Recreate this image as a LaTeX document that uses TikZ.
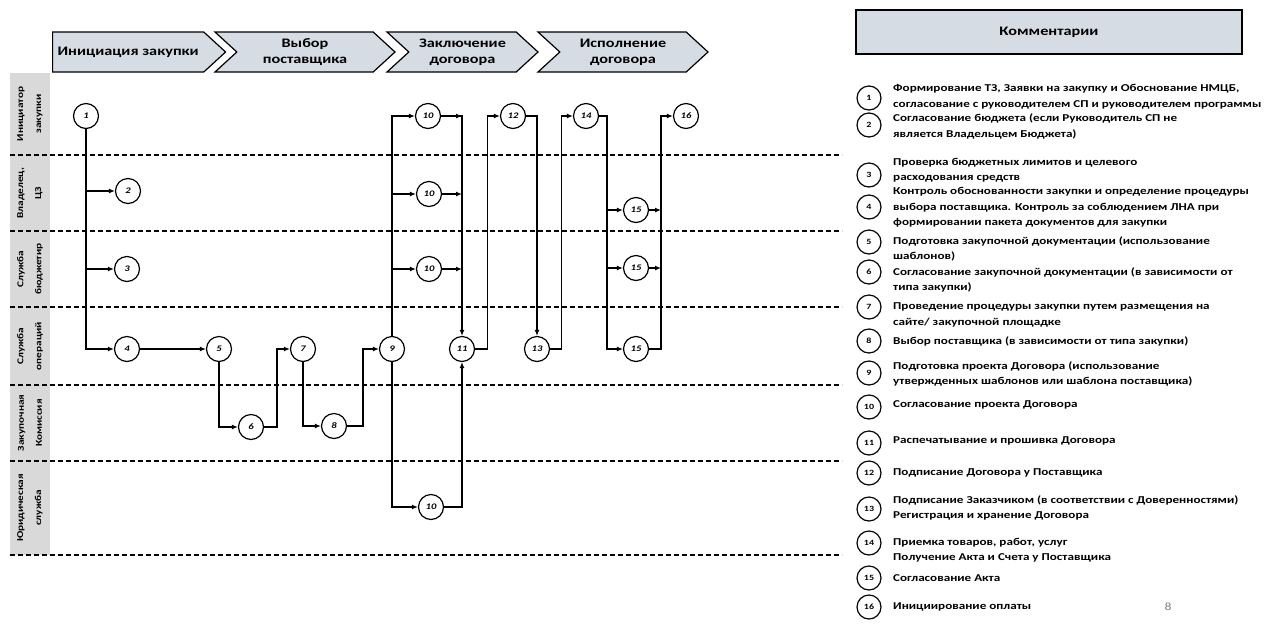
\documentclass[tikz,border=0pt]{standalone}
\usepackage{fontspec}
\setmainfont{Carlito}[FakeStretch=1.25]
\usetikzlibrary{calc, positioning, arrows.meta, shapes.symbols}
\definecolor{phasefill}{HTML}{D6DCE4}
\definecolor{lanegrey}{HTML}{D9D9D9}

\tikzset{
  stepnode/.style={circle, draw, line width=1.2pt, minimum size=25pt, inner sep=0pt, fill=white, font=\fontsize{8.5}{8.5}\selectfont\bfseries\itshape},
  keynode/.style={stepnode, minimum size=24pt, font=\fontsize{8}{8}\selectfont\bfseries},
  flow/.style={line width=1.3pt, -{Latex[length=6pt,width=5pt]}},
  lanesep/.style={line width=1.3pt, dash pattern=on 5pt off 3pt},
  phase/.style={signal, draw, fill=phasefill, line width=1.2pt, signal to=east, minimum height=40pt, inner sep=0pt, signal pointer angle=85, align=center, font=\fontsize{13}{16}\selectfont\bfseries},
  lanename/.style={rotate=90, align=center, font=\fontsize{9}{18}\selectfont\bfseries},
  keytext/.style={anchor=west, align=left, inner sep=0pt, font=\fontsize{10.5}{15.5}\selectfont\bfseries}
}

\begin{document}
\begin{tikzpicture}[x=1pt, y=-1pt]
      \useasboundingbox (0,0) rectangle (1266,625);

      \fill[lanegrey] (10,73) rectangle (50,555);
      \foreach \y in {155,231,307,385,461,555} {
        \draw[lanesep] (10,\y) -- (842,\y);
      }
      \foreach \yc/\txt [count=\i] in {114/{Инициатор\\закупки}, 193/{Владелец,\\ЦЗ}, 269/{Служба\\бюджетир}, 346/{Служба\\операций}, 423/{Закупочная\\Комиссия}, 508/{Юридическая\\служба}} {
        \node[lanename] (Lane\i) at (30,\yc) {\txt};
      }

      \node[phase, signal from=nowhere, minimum width=173pt, anchor=west] (Ph1) at (52,52) {Инициация закупки};
      \node[phase, signal from=west, minimum width=180pt] (Ph2) at (305,52) {Выбор\\поставщика};
      \node[phase, signal from=west, minimum width=151pt] (Ph3) at (462.5,52) {Заключение\\договора};
      \node[phase, signal from=west, minimum width=170pt] (Ph4) at (623,52) {Исполнение\\договора};

      \node[stepnode] (n1) at (86,116) {1};
      \node[stepnode] (n2) at (128,191) {2};
      \node[stepnode] (n3) at (127,269) {3};
      \node[stepnode] (n4) at (127,349) {4};
      \node[stepnode] (n5) at (219,349) {5};
      \node[stepnode] (n6) at (251,427) {6};
      \node[stepnode] (n7) at (303,349) {7};
      \node[stepnode] (n8) at (334,426) {8};
      \node[stepnode] (n9) at (392,349) {9};
      \node[stepnode] (n10a) at (428,116) {10};
      \node[stepnode] (n10b) at (429,194) {10};
      \node[stepnode] (n10c) at (429,269) {10};
      \node[stepnode] (n10d) at (431,507) {10};
      \node[stepnode] (n11) at (462,349) {11};
      \node[stepnode] (n12) at (513,116) {12};
      \node[stepnode] (n13) at (537,349) {13};
      \node[stepnode] (n14) at (586,116) {14};
      \node[stepnode] (n15a) at (636,210) {15};
      \node[stepnode] (n15b) at (636,268) {15};
      \node[stepnode] (n15c) at (636,349) {15};
      \node[stepnode] (n16) at (686,116) {16};

      \draw[flow] (n1) |- (n2);
      \draw[flow] (n1) |- (n3);
      \draw[flow] (n1) |- (n4);
      \draw[flow] (n4) -- (n5);
      \draw[flow] (n5) |- (n6);
      \draw[flow] (n6) -| ($(n6.east)!0.5!(n7.west)$) |- (n7);
      \draw[flow] (n7) |- (n8);
      \draw[flow] (n8) -| ($(n8.east)!0.5!(n9.west)$) |- (n9);
      \foreach \j in {a,b,c,d} {
        \draw[flow] (n9) |- (n10\j);
      }
      \foreach \j in {a,b,c} {
        \draw[flow] (n10\j) -- (n10\j -| n11);
      }
      \draw[flow] (n10a) -| (n11);
      \draw[flow] (n10d) -| (n11);
      \draw[flow] (n11) -| ($(n11.east)!0.5!(n12.west)$) |- (n12);
      \draw[flow] (n12) -| (n13);
      \draw[flow] (n13) -| ($(n13.east)!0.5!(n14.west)$) |- (n14);

      \coordinate (j14) at ($(n14.east)+(8,0)$);
      \coordinate (j16) at ($(n15c.east)!0.5!(n16.west |- n15c)$);
      \foreach \j in {a,b,c} {
        \draw[flow] (n14) -- (j14) |- (n15\j);
      }
      \draw[flow] (n15a) -- (n15a -| j16);
      \draw[flow] (n15b) -- (n15b -| j16);
      \draw[flow] (n15c) -- (j16) |- (n16);

      \node[draw, fill=phasefill, line width=1.2pt, minimum width=386pt, minimum height=44pt, font=\fontsize{13}{13}\selectfont\bfseries] (Comm) at (1049,32) {Комментарии};

      \foreach \k/\cy/\ty/\txt in {
        1/98/96.5/{Формирование ТЗ, Заявки на закупку и Обоснование НМЦБ,\\согласование с руководителем СП и руководителем программы},
        2/125/126.5/{Согласование бюджета (если Руководитель СП не\\является Владельцем Бюджета)},
        3/175/170/{Проверка бюджетных лимитов и целевого\\расходования средств},
        4/207/207.5/{Контроль обоснованности закупки и определение процедуры\\выбора поставщика. Контроль за соблюдением ЛНА при\\формировании пакета документов для закупки},
        5/242/249/{Подготовка закупочной документации (использование\\шаблонов)},
        6/272/280/{Согласование закупочной документации (в зависимости от\\типа закупки)},
        7/307/315/{Проведение процедуры закупки путем размещения на\\сайте/ закупочной площадке},
        8/341/341/{Выбор поставщика (в зависимости от типа закупки)},
        9/373/374/{Подготовка проекта Договора (использование\\утвержденных шаблонов или шаблона поставщика)},
        10/407/405/{Согласование проекта Договора},
        11/443/441/{Распечатывание и прошивка Договора},
        12/473/473/{Подписание Договора у Поставщика},
        13/509/508/{Подписание Заказчиком (в соответствии с Доверенностями)\\Регистрация и хранение Договора},
        14/543/550/{Приемка товаров, работ, услуг\\Получение Акта и Счета у Поставщика},
        15/578/578/{Согласование Акта},
        16/607/607/{Инициирование оплаты}} {
        \node[keynode] (c\k) at (869,\cy) {\k};
        \node[keytext] (t\k) at (893,\ty) {\txt};
      }

      \node[text=gray, font=\fontsize{11}{11}\selectfont] (pg) at (1168,607) {8};
\end{tikzpicture}
\end{document}
